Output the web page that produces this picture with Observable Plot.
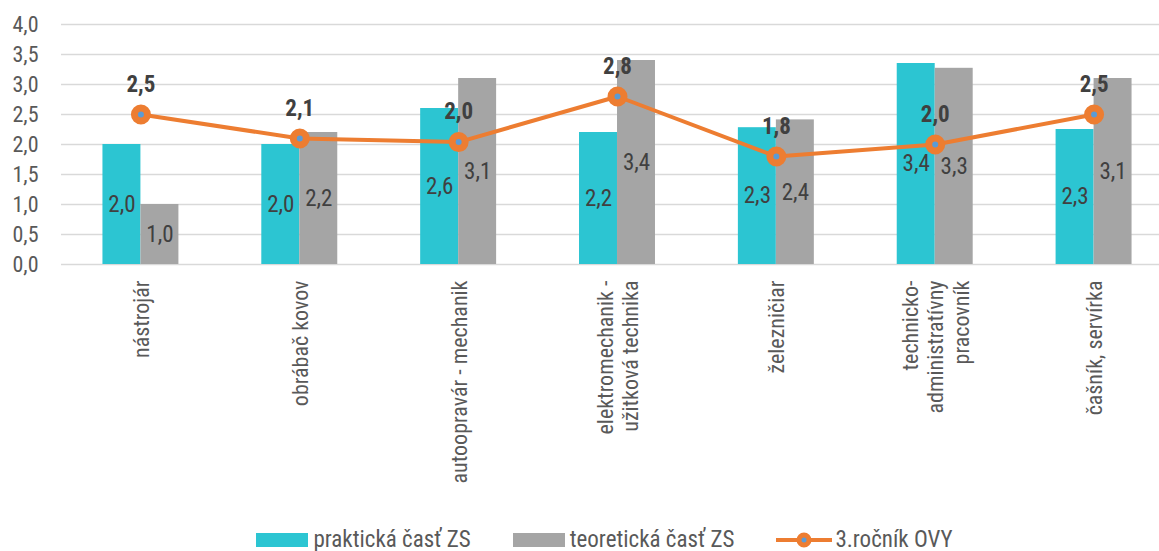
<!DOCTYPE html>
<html>
<head>
<meta charset="utf-8">
<script src="https://cdn.jsdelivr.net/npm/d3@7"></script>
<script src="https://cdn.jsdelivr.net/npm/@observablehq/plot@0.6"></script>
<style>
  html, body { margin: 0; padding: 0; background: #fff; }
  body { width: 1159px; height: 551px; overflow: hidden; font-family: "Roboto Condensed", "Liberation Sans Narrow", "DejaVu Sans Condensed", Roboto, sans-serif; }
  #legend { display: flex; justify-content: center; align-items: center; height: 23px; line-height: 23px; font-size: 23px; color: #595959; padding-left: 50px; box-sizing: border-box; width: 1159px; }
  .item { display: flex; align-items: center; margin: 0 21px; }
  .sw { width: 52px; height: 14px; margin-right: 5px; }
</style>
</head>
<body>
<div id="chart"></div>
<div id="legend"></div>
<script>
const categories = ["nástrojár", "obrábač kovov", "autoopravár - mechanik", "elektromechanik -\nužitková technika", "železničiar", "technicko-\nadministratívny\npracovník", "čašník, servírka"];
const praktickaZS = [2.0, 2.0, 2.6, 2.2, 2.28, 3.35, 2.25];
const teoretickaZS = [1.0, 2.2, 3.1, 3.4, 2.41, 3.27, 3.1];
const rocnikOVY = [2.5, 2.1, 2.04, 2.8, 1.8, 2.0, 2.5];
const yTicks = [0, 0.5, 1, 1.5, 2, 2.5, 3, 3.5, 4];
const seriesNames = ["praktická časť ZS", "teoretická časť ZS", "3.ročník OVY"];
const colors = ["#2CC5D2", "#A5A5A5", "#ED7D31"];

const fmt = v => v.toFixed(1).replace(".", ",");
const data = categories.map((c, i) => ({cat: c, p: praktickaZS[i], t: teoretickaZS[i], o: rocnikOVY[i]}));
const font = '"Roboto Condensed", "Liberation Sans Narrow", "DejaVu Sans Condensed", Roboto, sans-serif';

const chart = Plot.plot({
  width: 1159,
  height: 528,
  marginLeft: 61,
  marginRight: 0,
  marginTop: 24,
  marginBottom: 264,
  style: {fontFamily: font, background: "#fff", display: "block"},
  x: {domain: categories, range: [61, 1173], paddingInner: 0.761, paddingOuter: 0.3805, round: false, axis: null},
  y: {domain: [0, 4], axis: null},
  marks: [
    Plot.gridY(yTicks, {stroke: "#D9D9D9", strokeOpacity: 1, strokeWidth: 1.5}),
    Plot.axisY(yTicks, {tickSize: 0, tickPadding: 23, tickFormat: fmt, fontSize: 22, fill: "#595959", textAnchor: "end"}),
    Plot.barY(data, {x: "cat", y: "p", fill: colors[0], dx: -19}),
    Plot.barY(data, {x: "cat", y: "t", fill: colors[1], dx: 19}),
    Plot.text(data, {x: "cat", y: d => d.p / 2, text: d => fmt(d.p), dx: -19, fontSize: 23, fill: "#404040"}),
    Plot.text(data, {x: "cat", y: d => d.t / 2, text: d => fmt(d.t), dx: 19, fontSize: 23, fill: "#404040"}),
    Plot.lineY(data, {x: "cat", y: "o", stroke: colors[2], strokeWidth: 4}),
    Plot.dot(data, {x: "cat", y: "o", r: 6.5, fill: "#5B9BD5", stroke: colors[2], strokeWidth: 7}),
    Plot.text(data, {x: "cat", y: "o", text: d => fmt(d.o), dy: -30, fontSize: 23, fontWeight: "bold", fill: "#404040"}),
    Plot.text(categories, {x: d => d, frameAnchor: "bottom", dy: 16, rotate: -90, textAnchor: "end", lineAnchor: "middle", lineHeight: 1.15, fontSize: 22, fill: "#595959"})
  ]
});
document.getElementById("chart").appendChild(chart);

const legend = document.getElementById("legend");
seriesNames.forEach((name, i) => {
  const item = document.createElement("div");
  item.className = "item";
  let sw;
  if (i < 2) {
    sw = `<div class="sw" style="background:${colors[i]}"></div>`;
  } else {
    sw = `<svg width="56" height="20" style="margin-right:3px"><line x1="0" y1="10" x2="56" y2="10" stroke="${colors[2]}" stroke-width="4"/><circle cx="28" cy="10" r="5" fill="#5B9BD5" stroke="${colors[2]}" stroke-width="5"/></svg>`;
  }
  item.innerHTML = sw + `<span>${name}</span>`;
  legend.appendChild(item);
});
</script>
</body>
</html>
